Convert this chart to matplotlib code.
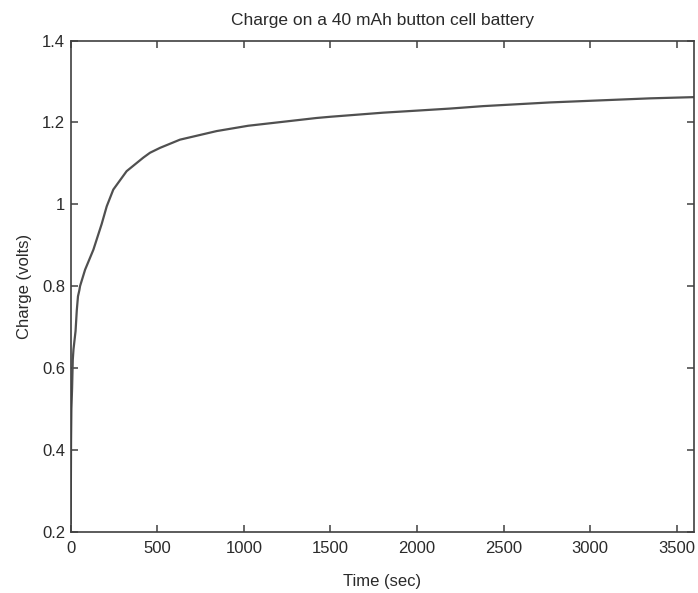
#!/usr/bin/env python
"""Charge curve of a 40 mAh button cell."""

import matplotlib
matplotlib.use('Agg')
import matplotlib.pyplot as plt
from matplotlib.ticker import FuncFormatter

# values
time_sec = [0, 2, 4, 8, 12, 16, 20, 28, 35, 42, 50, 54, 83, 131, 179, 208, 246,
            323, 419, 458, 516, 631, 843, 1025, 1420, 1500, 1805,
            2000, 2190, 2382, 2767, 3345, 3600]
charge_v = [0.22, 0.42, 0.50, 0.55, 0.62, 0.645, 0.66, 0.69, 0.74, 0.775, 0.79, 0.80,
            0.84, 0.889, 0.952, 0.995, 1.036, 1.081, 1.114, 1.126, 1.138, 1.158,
            1.179, 1.192, 1.211, 1.214, 1.224, 1.229, 1.234, 1.240,
            1.249, 1.259, 1.262]
x_ticks = [0, 500, 1000, 1500, 2000, 2500, 3000, 3500]
y_ticks = [0.2, 0.4, 0.6, 0.8, 1.0, 1.2, 1.4]

AXES_COLOR = '#404040'
TEXT_COLOR = '#2a2a2a'
LINE_COLOR = '#505050'

plt.rcParams['font.family'] = ['Liberation Sans', 'DejaVu Sans']

fig = plt.figure(figsize=(6.98, 5.93), dpi=100)
ax = fig.add_axes([0.1013, 0.1037, 0.8930, 0.8277])

ax.plot(time_sec, charge_v, color=LINE_COLOR, linewidth=1.6)

ax.set_xlim(0, 3600)
ax.set_ylim(0.2, 1.4)
ax.set_xticks(x_ticks)
ax.set_yticks(y_ticks)
ax.yaxis.set_major_formatter(FuncFormatter(lambda v, p: '%g' % round(v, 2)))

# MATLAB look: inward ticks on every side
ax.tick_params(direction='in', length=5, width=1.1, color=AXES_COLOR,
               top=True, right=True, labelsize=12, labelcolor=TEXT_COLOR)
ax.tick_params(axis='x', pad=6.5)
ax.tick_params(axis='y', pad=4)
for sp in ax.spines.values():
    sp.set_color(AXES_COLOR)
    sp.set_linewidth(1.2)

ax.set_xlabel('Time (sec)', fontsize=12, color=TEXT_COLOR, labelpad=13)
ax.set_ylabel('Charge (volts)', fontsize=12, color=TEXT_COLOR, labelpad=7)
ax.set_title('Charge on a 40 mAh button cell battery', fontsize=12.5,
             color=TEXT_COLOR, pad=11)

fig.savefig('out.png', dpi=100)
